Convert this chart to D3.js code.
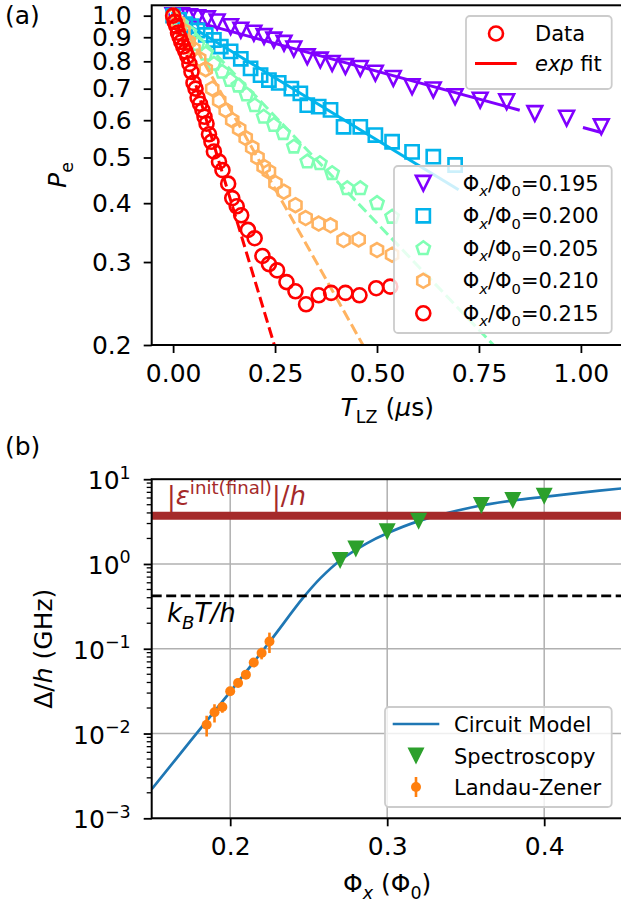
<!DOCTYPE html>
<html>
<head>
<meta charset="utf-8">
<script src="https://cdn.jsdelivr.net/npm/d3@7"></script>
<style>
body { margin: 0; background: #fff; }
svg { display: block; font-family: "DejaVu Sans", sans-serif; }
</style>
</head>
<body>
<div id="chart"></div>
<script>
// ---------- panel (a) data : T_LZ (us) and P_e for each flux bias ----------
var fluxLabels = ["0.195", "0.200", "0.205", "0.210", "0.215"];

var t195 = [0, 0.02, 0.04, 0.06, 0.084, 0.108, 0.141, 0.166, 0.198, 0.223, 0.247, 0.272, 0.296, 0.329, 0.361, 0.39, 0.4225, 0.459, 0.496, 0.54, 0.586, 0.638, 0.6915, 0.753, 0.818, 0.887, 0.965, 1.05];
var p195 = [1.0, 1.0, 0.995, 0.99, 0.985, 0.97, 0.948, 0.932, 0.918, 0.903, 0.888, 0.874, 0.85, 0.818, 0.805, 0.792, 0.78, 0.773, 0.755, 0.736, 0.707, 0.696, 0.673, 0.662, 0.657, 0.62, 0.606, 0.581];

var t200 = [0, 0.015, 0.03, 0.045, 0.06, 0.08, 0.10, 0.117, 0.141, 0.166, 0.19, 0.2145, 0.235, 0.259, 0.29, 0.312, 0.329, 0.357, 0.386, 0.418, 0.459, 0.496, 0.537, 0.586, 0.638, 0.6915];
var p200 = [1.0, 0.98, 0.96, 0.95, 0.93, 0.91, 0.888, 0.86, 0.84, 0.81, 0.773, 0.748, 0.73, 0.72, 0.70, 0.684, 0.646, 0.641, 0.631, 0.581, 0.581, 0.558, 0.54, 0.514, 0.502, 0.482];

var t205 = [0, 0.02, 0.04, 0.06, 0.08, 0.10, 0.12, 0.14, 0.16, 0.18, 0.20, 0.222, 0.247, 0.27, 0.296, 0.329, 0.36, 0.39, 0.427, 0.459, 0.50, 0.537];
var p205 = [1.0, 0.96, 0.92, 0.87, 0.83, 0.79, 0.76, 0.73, 0.71, 0.68, 0.645, 0.61, 0.586, 0.563, 0.527, 0.49, 0.486, 0.463, 0.43, 0.43, 0.40, 0.374];

var t210 = [0, 0.012, 0.025, 0.038, 0.05, 0.064, 0.08, 0.096, 0.113, 0.129, 0.145, 0.162, 0.178, 0.194, 0.207, 0.222, 0.235, 0.251, 0.2715, 0.30, 0.325, 0.357, 0.386, 0.418, 0.455, 0.50, 0.537];
var p210 = [1.0, 0.97, 0.93, 0.88, 0.85, 0.81, 0.77, 0.70, 0.66, 0.63, 0.60, 0.575, 0.55, 0.525, 0.50, 0.478, 0.467, 0.441, 0.423, 0.396, 0.372, 0.362, 0.359, 0.334, 0.335, 0.318, 0.311];

var t215 = [0, 0.004, 0.008, 0.012, 0.016, 0.02, 0.025, 0.03, 0.035, 0.04, 0.045, 0.05, 0.055, 0.06, 0.066, 0.072, 0.077, 0.082, 0.088, 0.094, 0.100, 0.1125, 0.121, 0.135, 0.145, 0.156, 0.167, 0.1835, 0.2, 0.219, 0.235, 0.255, 0.278, 0.3, 0.326, 0.357, 0.3875, 0.4225, 0.457, 0.498, 0.5325];
var p215 = [1.0, 0.97, 0.95, 0.92, 0.90, 0.88, 0.86, 0.84, 0.82, 0.79, 0.76, 0.72, 0.70, 0.67, 0.65, 0.63, 0.61, 0.59, 0.56, 0.54, 0.515, 0.49, 0.47, 0.44, 0.41, 0.394, 0.377, 0.351, 0.337, 0.309, 0.297, 0.288, 0.272, 0.26, 0.244, 0.255, 0.258, 0.258, 0.255, 0.264, 0.266];

// exp fit segments (straight on the log axis): series index, start/end T and P
var fitSeries = [0, 0, 1, 2, 3, 4];
var fitT0 = [0, 1.005, 0, 0, 0, 0];
var fitT1 = [0.85, 1.05, 0.70, 0.80, 0.48, 0.26];
var fitP0 = [1.0, 0.579, 1.0, 1.03, 1.04, 1.03];
var fitP1 = [0.63, 0.565, 0.427, 0.194, 0.19, 0.185];

var xTicksA = [0, 0.25, 0.5, 0.75, 1.0];
var yTicksA = [0.2, 0.3, 0.4, 0.5, 0.6, 0.7, 0.8, 0.9, 1.0];

// ---------- panel (b) data : gap vs flux ----------
var circuitPhi = [0.15, 0.175, 0.20, 0.225, 0.2465, 0.2575, 0.27, 0.287, 0.30, 0.32, 0.355, 0.38, 0.40, 0.425, 0.45];
var circuitDelta = [0.0022, 0.0083, 0.031, 0.12, 0.40, 0.68, 1.1, 1.75, 2.3, 3.2, 4.7, 5.6, 6.2, 7.0, 7.8];

var specPhi = [0.27, 0.28, 0.30, 0.32, 0.36, 0.38, 0.40];
var specDelta = [1.1, 1.5, 2.4, 3.2, 4.9, 5.6, 6.3];

var lzPhi = [0.185, 0.19, 0.195, 0.20, 0.205, 0.21, 0.215, 0.22, 0.225];
var lzDelta = [0.0127, 0.0178, 0.0206, 0.0315, 0.0395, 0.0495, 0.069, 0.089, 0.122];
var lzErr = [0.0035, 0.0043, 0.003, 0.003, 0.003, 0.004, 0.006, 0.014, 0.033];

var epsLevel = 3.7;   // |eps init(final)|/h
var kTLevel = 0.42;   // kB T / h

var xTicksB = [0.2, 0.3, 0.4];
var yExpB = [-3, -2, -1, 0, 1];

// ---------- styles ----------
var colors = ["#8000ff", "#02b4ec", "#80ffb4", "#ffb361", "#ff0000"];
var shapes = ["tri", "square", "pent", "hex", "circle"];
var tickFont = 25, legendFont = 21;

var svgWidth = 621;
var svgHeight = 905;

var svg = d3.select("#chart")
  .append("svg")
  .attr("width", svgWidth)
  .attr("height", svgHeight);

var defs = svg.append("defs");

// marker outlines like matplotlib's
function markerPath(kind, r) {
  if (kind === "circle") {
    return "M" + r + ",0A" + r + "," + r + " 0 1,1 " + (-r) + ",0A" + r + "," + r + " 0 1,1 " + r + ",0Z";
  }
  if (kind === "square") {
    return "M" + (-r) + "," + (-r) + "H" + r + "V" + r + "H" + (-r) + "Z";
  }
  if (kind === "tri") {
    return "M" + (-r) + "," + (-r) + "L" + r + "," + (-r) + "L0," + r + "Z";
  }
  var n = kind === "pent" ? 5 : 6;
  var pts = d3.range(n).map(function(k) {
    var a = (-90 + k * 360 / n) * Math.PI / 180;
    return [r * Math.cos(a), r * Math.sin(a)];
  });
  return "M" + pts.join("L") + "Z";
}

function markerSize(kind) {
  return kind === "tri" ? 7.4 : (kind === "square" ? 6.6 : 7.0);
}

// text with sub/superscripts built from tspans; base = first baseline shift in px
function mtext(sel, parts, fs, base) {
  var cur = 0;
  base = base || 0;
  parts.forEach(function(p, i) {
    var off = p.sub ? 0.26 * fs : (p.sup ? -0.42 * fs : 0);
    sel.append("tspan")
      .attr("dy", off - cur + (i === 0 ? base : 0))
      .attr("font-size", (p.sub || p.sup) ? fs * 0.7 : fs)
      .attr("font-style", p.it ? "italic" : "normal")
      .text(p.t);
    cur = off;
  });
  return sel;
}

function styleTicks(g) {
  g.selectAll(".domain").remove();
  g.selectAll(".tick line").attr("stroke", "#000").attr("stroke-width", 1.8);
  g.selectAll(".tick text")
    .attr("font-size", tickFont)
    .attr("font-family", "DejaVu Sans")
    .attr("fill", "#000");
}

// =================== panel (a) ===================
var boxA = { left: 151.7, right: 622.7, top: 5.3, bottom: 345 };
var xA = d3.scaleLinear().domain([-0.0525, 1.1025]).range([boxA.left, boxA.right]);
var yA = d3.scaleLog().domain([0.2, 1.052]).range([boxA.bottom, boxA.top]);

defs.append("clipPath").attr("id", "clipA")
  .append("rect")
  .attr("x", boxA.left).attr("y", boxA.top)
  .attr("width", boxA.right - boxA.left).attr("height", boxA.bottom - boxA.top);

var plotA = svg.append("g").attr("clip-path", "url(#clipA)");

var tData = [t195, t200, t205, t210, t215];
var pData = [p195, p200, p205, p210, p215];

tData.forEach(function(ts, i) {
  var pts = ts.map(function(t, j) { return { t: t, p: pData[i][j] }; });
  plotA.append("g").selectAll("path")
    .data(pts)
    .enter()
    .append("path")
    .attr("d", markerPath(shapes[i], markerSize(shapes[i])))
    .attr("transform", d => `translate(${xA(d.t)},${yA(d.p)})`)
    .attr("fill", "none")
    .attr("stroke", colors[i])
    .attr("stroke-width", 2.6)
    .attr("stroke-linejoin", "miter");

  fitSeries.forEach(function(s, k) {
    if (s !== i) return;
    plotA.append("line")
      .attr("x1", xA(fitT0[k])).attr("y1", yA(fitP0[k]))
      .attr("x2", xA(fitT1[k])).attr("y2", yA(fitP1[k]))
      .attr("stroke", colors[i])
      .attr("stroke-width", 3)
      .attr("stroke-dasharray", i >= 2 ? "11,4.8" : null);
  });
});

// axes (a)
var xAxisA = svg.append("g")
  .attr("transform", `translate(0,${boxA.bottom})`)
  .call(d3.axisBottom(xA).tickValues(xTicksA).tickFormat(d3.format(".2f")).tickSize(8).tickPadding(11).tickSizeOuter(0));
styleTicks(xAxisA);

var yAxisA = svg.append("g")
  .attr("transform", `translate(${boxA.left},0)`)
  .call(d3.axisLeft(yA).tickValues(yTicksA).tickFormat(d3.format(".1f")).tickSize(8).tickPadding(12).tickSizeOuter(0));
styleTicks(yAxisA);

svg.append("rect")
  .attr("x", boxA.left).attr("y", boxA.top)
  .attr("width", boxA.right - boxA.left).attr("height", boxA.bottom - boxA.top)
  .attr("fill", "none").attr("stroke", "#000").attr("stroke-width", 2);

// labels (a)
mtext(svg.append("text")
  .attr("x", (boxA.left + boxA.right) / 2).attr("y", 416)
  .attr("text-anchor", "middle"),
  [{ t: "T", it: true }, { t: "LZ", sub: true }, { t: " (" }, { t: "μ", it: true }, { t: "s)" }], tickFont);

mtext(svg.append("text")
  .attr("transform", "translate(66,175) rotate(-90)")
  .attr("text-anchor", "middle"),
  [{ t: "P", it: true }, { t: "e", sub: true }], tickFont);

svg.append("text").attr("x", 5).attr("y", 24).attr("font-size", tickFont).text("(a)");

// legend: Data / exp fit
var legA1 = svg.append("g");
legA1.append("rect")
  .attr("x", 466).attr("y", 16).attr("width", 145.7).attr("height", 73).attr("rx", 4)
  .attr("fill", "#fff").attr("fill-opacity", 0.8)
  .attr("stroke", "#cccccc").attr("stroke-width", 1.8);
legA1.append("path")
  .attr("d", markerPath("circle", 7.0))
  .attr("transform", "translate(496,33.5)")
  .attr("fill", "none").attr("stroke", "#ff0000").attr("stroke-width", 2.6);
legA1.append("line")
  .attr("x1", 475).attr("x2", 516.7).attr("y1", 63.5).attr("y2", 63.5)
  .attr("stroke", "#ff0000").attr("stroke-width", 3);
legA1.append("text").attr("x", 535).attr("y", 33.5).attr("dy", "0.36em")
  .attr("font-size", legendFont).text("Data");
mtext(legA1.append("text").attr("x", 535).attr("y", 63.5),
  [{ t: "exp", it: true }, { t: " fit" }], legendFont, 7.6);

// legend: flux values
var legA2 = svg.append("g");
legA2.append("rect")
  .attr("x", 394).attr("y", 166).attr("width", 217.7).attr("height", 167).attr("rx", 4)
  .attr("fill", "#fff").attr("fill-opacity", 0.8)
  .attr("stroke", "#cccccc").attr("stroke-width", 1.8);

var legRows = legA2.selectAll("g.row")
  .data(fluxLabels)
  .enter()
  .append("g")
  .attr("class", "row")
  .attr("transform", (d, i) => `translate(0,${183.3 + i * 32.5})`);

legRows.append("path")
  .attr("d", (d, i) => markerPath(shapes[i], markerSize(shapes[i])))
  .attr("transform", "translate(423.3,0)")
  .attr("fill", "none")
  .attr("stroke", (d, i) => colors[i])
  .attr("stroke-width", 2.6);

legRows.each(function(d) {
  mtext(d3.select(this).append("text").attr("x", 462.7).attr("y", 0),
    [{ t: "Φ" }, { t: "x", sub: true, it: true }, { t: "/Φ" }, { t: "0", sub: true }, { t: "=" + d }], legendFont, 7.6);
});

// =================== panel (b) ===================
var boxB = { left: 151.7, right: 622.7, top: 479.2, bottom: 818.3 };
var xB = d3.scaleLinear().domain([0.15, 0.45]).range([boxB.left, boxB.right]);
var yB = d3.scaleLog().domain([1e-3, 1e1]).range([boxB.bottom, boxB.top]);

defs.append("clipPath").attr("id", "clipB")
  .append("rect")
  .attr("x", boxB.left).attr("y", boxB.top)
  .attr("width", boxB.right - boxB.left).attr("height", boxB.bottom - boxB.top);

var plotB = svg.append("g").attr("clip-path", "url(#clipB)");

// grid
plotB.selectAll("line.gx")
  .data(xTicksB)
  .enter()
  .append("line")
  .attr("x1", d => xB(d)).attr("x2", d => xB(d))
  .attr("y1", boxB.top).attr("y2", boxB.bottom)
  .attr("stroke", "#b0b0b0").attr("stroke-width", 1.5);

plotB.selectAll("line.gy")
  .data(yExpB)
  .enter()
  .append("line")
  .attr("x1", boxB.left).attr("x2", boxB.right)
  .attr("y1", d => yB(Math.pow(10, d))).attr("y2", d => yB(Math.pow(10, d)))
  .attr("stroke", "#b0b0b0").attr("stroke-width", 1.5);

// circuit model curve
var circuitLine = d3.line()
  .x(d => xB(d[0]))
  .y(d => yB(d[1]))
  .curve(d3.curveCatmullRom.alpha(0.5));

plotB.append("path")
  .datum(circuitPhi.map((p, i) => [p, circuitDelta[i]]))
  .attr("d", circuitLine)
  .attr("fill", "none")
  .attr("stroke", "#1f77b4")
  .attr("stroke-width", 2.7);

// reference levels
plotB.append("line")
  .attr("x1", boxB.left).attr("x2", boxB.right)
  .attr("y1", yB(epsLevel)).attr("y2", yB(epsLevel))
  .attr("stroke", "#a52a2a").attr("stroke-width", 8);

plotB.append("line")
  .attr("x1", boxB.left).attr("x2", boxB.right)
  .attr("y1", yB(kTLevel)).attr("y2", yB(kTLevel))
  .attr("stroke", "#000").attr("stroke-width", 2.8)
  .attr("stroke-dasharray", "10,4.5");

// spectroscopy
plotB.append("g").selectAll("path")
  .data(specPhi.map((p, i) => [p, specDelta[i]]))
  .enter()
  .append("path")
  .attr("d", markerPath("tri", 8.5))
  .attr("transform", d => `translate(${xB(d[0])},${yB(d[1])})`)
  .attr("fill", "#2ca02c");

// Landau-Zener with error bars
var lzPts = lzPhi.map((p, i) => ({ phi: p, d: lzDelta[i], e: lzErr[i] }));
var lzG = plotB.append("g");
lzG.selectAll("line")
  .data(lzPts)
  .enter()
  .append("line")
  .attr("x1", d => xB(d.phi)).attr("x2", d => xB(d.phi))
  .attr("y1", d => yB(d.d + d.e)).attr("y2", d => yB(d.d - d.e))
  .attr("stroke", "#ff7f0e").attr("stroke-width", 2.6);
lzG.selectAll("circle")
  .data(lzPts)
  .enter()
  .append("circle")
  .attr("cx", d => xB(d.phi))
  .attr("cy", d => yB(d.d))
  .attr("r", 5)
  .attr("fill", "#ff7f0e");

// annotations
mtext(svg.append("text").attr("x", 167).attr("y", 505).attr("fill", "#a52a2a"),
  [{ t: "|" }, { t: "ε", it: true }, { t: "init(final)", sup: true }, { t: "|" }, { t: "/" }, { t: "h", it: true }], 26);

mtext(svg.append("text").attr("x", 167).attr("y", 622).attr("fill", "#000"),
  [{ t: "k", it: true }, { t: "B", sub: true, it: true }, { t: "T/h", it: true }], 26);

// axes (b)
var xAxisB = svg.append("g")
  .attr("transform", `translate(0,${boxB.bottom})`)
  .call(d3.axisBottom(xB).tickValues(xTicksB).tickFormat(d3.format(".1f")).tickSize(8).tickPadding(11).tickSizeOuter(0));
styleTicks(xAxisB);

var yAxisB = svg.append("g")
  .attr("transform", `translate(${boxB.left},0)`)
  .call(d3.axisLeft(yB).tickValues(yExpB.map(e => Math.pow(10, e))).tickFormat("").tickSize(8).tickSizeOuter(0));
styleTicks(yAxisB);

var minorB = [];
yExpB.slice(0, -1).forEach(function(e) {
  d3.range(2, 10).forEach(function(m) { minorB.push(m * Math.pow(10, e)); });
});
svg.append("g").selectAll("line")
  .data(minorB)
  .enter()
  .append("line")
  .attr("x1", boxB.left - 5).attr("x2", boxB.left)
  .attr("y1", d => yB(d)).attr("y2", d => yB(d))
  .attr("stroke", "#000").attr("stroke-width", 1.3);

yExpB.forEach(function(e) {
  mtext(svg.append("text")
    .attr("x", boxB.left - 21).attr("y", yB(Math.pow(10, e)) + 10)
    .attr("text-anchor", "end"),
    [{ t: "10" }, { t: e < 0 ? "\u2212" + (-e) : String(e), sup: true }], tickFont);
});

svg.append("rect")
  .attr("x", boxB.left).attr("y", boxB.top)
  .attr("width", boxB.right - boxB.left).attr("height", boxB.bottom - boxB.top)
  .attr("fill", "none").attr("stroke", "#000").attr("stroke-width", 2);

mtext(svg.append("text")
  .attr("x", (boxB.left + boxB.right) / 2).attr("y", 892)
  .attr("text-anchor", "middle"),
  [{ t: "Φ" }, { t: "x", sub: true, it: true }, { t: " (Φ" }, { t: "0", sub: true }, { t: ")" }], tickFont);

mtext(svg.append("text")
  .attr("transform", `translate(52,${(boxB.top + boxB.bottom) / 2}) rotate(-90)`)
  .attr("text-anchor", "middle"),
  [{ t: "Δ/" }, { t: "h", it: true }, { t: " (GHz)" }], tickFont);

svg.append("text").attr("x", 5).attr("y", 455).attr("font-size", tickFont).text("(b)");

// legend (b)
var legB = svg.append("g");
legB.append("rect")
  .attr("x", 385).attr("y", 707).attr("width", 226.7).attr("height", 100).attr("rx", 4)
  .attr("fill", "#fff").attr("fill-opacity", 0.8)
  .attr("stroke", "#cccccc").attr("stroke-width", 1.8);
legB.append("line")
  .attr("x1", 392.7).attr("x2", 439.3).attr("y1", 724).attr("y2", 724)
  .attr("stroke", "#1f77b4").attr("stroke-width", 2.7);
legB.append("path")
  .attr("d", markerPath("tri", 8.5))
  .attr("transform", "translate(416,756)")
  .attr("fill", "#2ca02c");
legB.append("line")
  .attr("x1", 416).attr("x2", 416).attr("y1", 777).attr("y2", 797)
  .attr("stroke", "#ff7f0e").attr("stroke-width", 2.6);
legB.append("circle").attr("cx", 416).attr("cy", 787).attr("r", 5).attr("fill", "#ff7f0e");

var legBLabels = ["Circuit Model", "Spectroscopy", "Landau-Zener"];
legB.selectAll("text")
  .data(legBLabels)
  .enter()
  .append("text")
  .attr("x", 454)
  .attr("y", (d, i) => [724, 756, 787][i])
  .attr("dy", "0.36em")
  .attr("font-size", legendFont)
  .text(d => d);
</script>
</body>
</html>
